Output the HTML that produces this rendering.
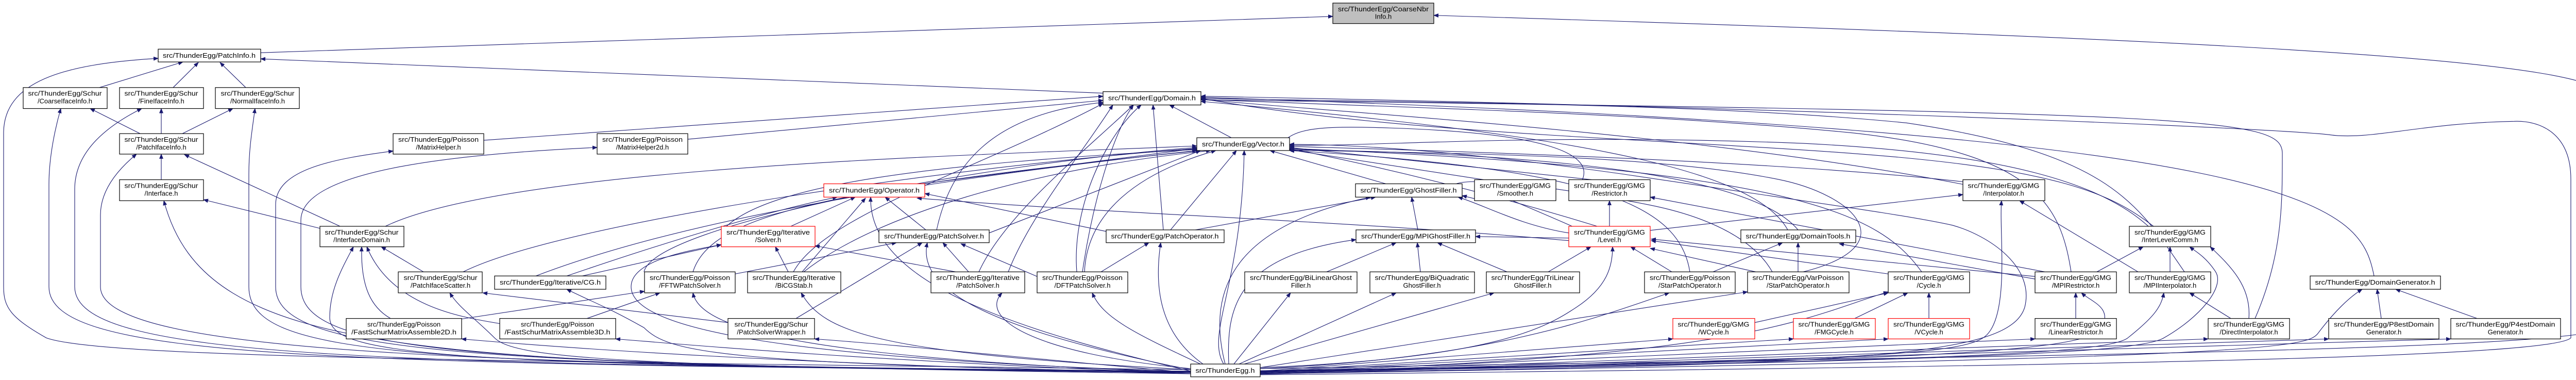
<!DOCTYPE html>
<html><head><meta charset="utf-8">
<style>
html,body{margin:0;padding:0;background:#fff;}
svg{display:block;}
text{font-family:"Liberation Sans",sans-serif;font-size:13px;fill:#000;}
.e{fill:none;stroke:#191970;stroke-width:1.1;marker-end:url(#ah);}
.n{fill:#fff;stroke:#000;stroke-width:1.2;}
.r{fill:#fff;stroke:#ff0000;stroke-width:1.2;}
</style></head>
<body>
<svg width="5064" height="737" viewBox="0 0 5064 737" xmlns="http://www.w3.org/2000/svg">
<defs>
<marker id="ah" markerWidth="10" markerHeight="8" refX="9" refY="4" orient="auto" markerUnits="userSpaceOnUse">
<path d="M0,0 L10,4 L0,8 z" fill="#191970"/>
</marker>
</defs>
<g transform="scale(1 0.993)">
<g>
<!-- edges -->
<path class="e" d="M506,103 L2587,32"/>
<path class="e" d="M2446,720 C3500,700 5000,690 5057,640 L5057,190 C5057,120 4400,80 2783,30"/>
<path class="e" d="M2141,182 L506,115"/>
<path class="e" d="M2311,722 C1000,705 200,700 90,660 C20,620 7,600 7,560 L7,260 C7,160 120,125 307,114"/>
<path class="e" d="M193,171 L355,121"/>
<path class="e" d="M336,171 L385,122"/>
<path class="e" d="M477,171 L427,122"/>
<path class="e" d="M272,261 L175,212"/>
<path class="e" d="M313,261 L313,212"/>
<path class="e" d="M354,261 L452,212"/>
<path class="e" d="M2311,725 C600,712 95,700 95,560 L95,360 C95,300 110,240 118,212"/>
<path class="e" d="M2311,725 C700,712 145,700 145,560 L145,370 C145,300 200,250 275,212"/>
<path class="e" d="M2311,725 C800,712 483,700 483,560 L483,340 C483,290 490,250 495,212"/>
<path class="e" d="M313,351 L313,301"/>
<path class="e" d="M660,442 L358,302"/>
<path class="e" d="M2311,726 C900,712 195,690 195,560 L195,420 C195,370 230,330 265,301"/>
<path class="e" d="M621,446 L395,390"/>
<path class="e" d="M2311,727 C800,712 400,700 318,392"/>
<path class="e" d="M822,531 L740,482"/>
<path class="e" d="M758,622 C720,600 700,560 702,482"/>
<path class="e" d="M970,632 C900,620 760,600 712,482"/>
<path class="e" d="M2311,728 C900,712 640,700 640,620 C640,570 660,530 686,482"/>
<path class="e" d="M748,442 C1000,320 2000,300 2323,285"/>
<path class="e" d="M899,531 C1100,430 1900,320 2323,290"/>
<path class="e" d="M939,274 L2141,188"/>
<path class="e" d="M1335,272 L2141,196"/>
<path class="e" d="M2311,728 C900,712 584,690 584,560 L584,430 C584,330 900,300 1159,288"/>
<path class="e" d="M2311,728 C900,712 535,690 535,560 L535,400 C535,330 650,310 763,295"/>
<path class="e" d="M1535,442 L1660,385"/>
<path class="e" d="M1100,539 C1300,470 1500,410 1625,385"/>
<path class="e" d="M1557,531 L1680,387"/>
<path class="e" d="M1797,449 L1718,385"/>
<path class="e" d="M2311,725 C2000,650 1685,560 1690,385"/>
<path class="e" d="M2147,452 L1795,378"/>
<path class="e" d="M3045,470 C2600,430 2200,420 1780,387"/>
<path class="e" d="M1790,359 L2323,290"/>
<path class="e" d="M1130,539 L1400,478"/>
<path class="e" d="M1530,531 L1505,482"/>
<path class="e" d="M1855,531 L1582,480"/>
<path class="e" d="M2311,726 C1500,700 1225,640 1225,560 C1225,510 1330,490 1400,478"/>
<path class="e" d="M1345,531 C1380,420 1600,370 2330,294"/>
<path class="e" d="M1427,535 L1740,474"/>
<path class="e" d="M1880,531 L1830,474"/>
<path class="e" d="M1545,622 L1790,474"/>
<path class="e" d="M2311,722 C1900,640 1780,560 1800,474"/>
<path class="e" d="M2013,540 L1865,476"/>
<path class="e" d="M1818,449 C1850,300 1950,220 2141,200"/>
<path class="e" d="M1920,455 L2330,294"/>
<path class="e" d="M896,623 L1251,569"/>
<path class="e" d="M1139,622 L1281,572"/>
<path class="e" d="M2311,728 C1600,700 1360,650 1345,572"/>
<path class="e" d="M2311,722 C1700,690 1600,650 1555,572"/>
<path class="e" d="M2311,720 C2000,690 1900,620 1945,572"/>
<path class="e" d="M2311,728 C1400,710 1300,690 1250,640 C1180,600 1150,590 1100,565"/>
<path class="e" d="M1413,630 L937,572"/>
<path class="e" d="M2311,730 C1200,715 1000,700 960,660 C920,620 890,600 873,572"/>
<path class="e" d="M2311,730 C1500,710 1100,680 896,662"/>
<path class="e" d="M2311,730 C1600,700 1300,670 1195,662"/>
<path class="e" d="M2311,728 C2000,700 1700,670 1581,662"/>
<path class="e" d="M2090,531 C2080,400 2150,260 2215,205"/>
<path class="e" d="M2105,531 C2110,420 2200,340 2360,294"/>
<path class="e" d="M2137,531 L2230,474"/>
<path class="e" d="M2330,711 C2200,650 2140,620 2120,572"/>
<path class="e" d="M2258,449 L2238,205"/>
<path class="e" d="M2272,449 L2400,294"/>
<path class="e" d="M2320,449 L2670,385"/>
<path class="e" d="M2335,711 C2250,650 2240,560 2253,474"/>
<path class="e" d="M2390,269 L2270,205"/>
<path class="e" d="M2375,711 C2340,650 2410,560 2415,294"/>
<path class="e" d="M2690,359 L2465,294"/>
<path class="e" d="M2880,351 L2500,292"/>
<path class="e" d="M2862,388 L2838,382"/>
<path class="e" d="M2752,449 L2740,385"/>
<path class="e" d="M2575,531 L2710,474"/>
<path class="e" d="M2757,531 L2751,474"/>
<path class="e" d="M2925,531 L2790,474"/>
<path class="e" d="M2378,711 C2340,560 2400,440 2660,385"/>
<path class="e" d="M2385,711 C2380,600 2400,500 2632,468"/>
<path class="e" d="M2395,711 L2505,572"/>
<path class="e" d="M2405,711 L2710,572"/>
<path class="e" d="M2415,711 L2900,572"/>
<path class="e" d="M3045,455 C2950,440 2880,400 2830,385"/>
<path class="e" d="M3045,465 L2864,462"/>
<path class="e" d="M3124,442 L3124,392"/>
<path class="e" d="M3203,450 L3810,380"/>
<path class="e" d="M4150,531 L3920,392"/>
<path class="e" d="M3969,531 L3203,385"/>
<path class="e" d="M3245,531 L3165,482"/>
<path class="e" d="M3408,531 L3203,485"/>
<path class="e" d="M3665,535 L3205,470"/>
<path class="e" d="M3950,540 L3205,467"/>
<path class="e" d="M3005,531 L3088,482"/>
<path class="e" d="M2446,718 C2900,700 3000,640 3060,600 C3120,560 3130,520 3130,482"/>
<path class="e" d="M3325,531 L3460,474"/>
<path class="e" d="M3490,531 L3490,474"/>
<path class="e" d="M3950,545 L3570,476"/>
<path class="e" d="M3406,630 L3665,572"/>
<path class="e" d="M3600,622 L3703,572"/>
<path class="e" d="M3744,622 L3744,572"/>
<path class="e" d="M2446,720 C2900,700 3100,620 3240,572"/>
<path class="e" d="M2446,718 L3392,570"/>
<path class="e" d="M2446,725 L3247,662"/>
<path class="e" d="M2446,726 L3481,662"/>
<path class="e" d="M2446,727 L3665,662"/>
<path class="e" d="M2446,728 L3950,662"/>
<path class="e" d="M2446,729 L4286,662"/>
<path class="e" d="M2446,730 L4520,662"/>
<path class="e" d="M2446,731 L4757,662"/>
<path class="e" d="M2446,726 C3400,700 3500,620 3665,570"/>
<path class="e" d="M2446,724 C3700,705 3830,690 3860,650 C3900,600 3880,450 3885,392"/>
<path class="e" d="M2446,725 C3700,705 4050,690 4080,640 C4100,600 4060,590 4040,572"/>
<path class="e" d="M2446,726 C3800,705 4090,690 4130,660 C4180,620 4195,600 4200,572"/>
<path class="e" d="M2446,727 C3800,705 4150,690 4200,660 C4270,620 4320,560 4300,530 C4280,500 4260,490 4250,482"/>
<path class="e" d="M2446,729 C3600,712 3900,700 3930,600 C3950,520 3860,460 3790,440 C3700,420 3550,400 3150,340 C2800,290 2600,282 2503,282"/>
<path class="e" d="M4029,622 L4029,572"/>
<path class="e" d="M4070,531 L4160,482"/>
<path class="e" d="M4212,531 L4212,482"/>
<path class="e" d="M4365,622 C4370,560 4330,520 4290,482"/>
<path class="e" d="M4330,622 L4250,572"/>
<path class="e" d="M4377,622 C4430,500 4430,400 4430,300 C4430,230 4300,220 2331,195"/>
<path class="e" d="M4622,622 L4614,565"/>
<path class="e" d="M4808,622 L4650,565"/>
<path class="e" d="M4608,539 C4580,400 4500,260 2331,190"/>
<path class="e" d="M2446,730 C4400,700 4480,680 4500,650 C4530,610 4560,580 4585,565"/>
<path class="e" d="M2446,732 C4000,715 4950,700 4990,660 L4990,350 C4990,260 4930,235 4880,237 C4700,240 4600,275 4520,263 C4400,250 3500,210 2331,188"/>
<path class="e" d="M4180,442 C4100,380 4000,330 3600,300 C3200,270 2700,260 2331,192"/>
<path class="e" d="M4170,442 C4080,360 3900,300 3500,280 C3000,260 2700,285 2503,284"/>
<path class="e" d="M3810,355 C3500,320 3000,300 2503,286"/>
<path class="e" d="M3810,360 C3300,260 2600,220 2331,194"/>
<path class="e" d="M3090,351 L2503,288"/>
<path class="e" d="M3100,442 C2900,380 2700,330 2503,290"/>
<path class="e" d="M3490,449 C3400,340 3000,300 2503,292"/>
<path class="e" d="M3470,449 C3400,320 3000,260 2331,198"/>
<path class="e" d="M3730,531 C3650,420 3500,330 2503,290"/>
<path class="e" d="M3280,531 C3260,400 3100,330 2503,294"/>
<path class="e" d="M3500,531 C3700,480 3600,380 3450,350 C3200,300 2800,300 2503,293"/>
<path class="e" d="M3440,531 C3400,460 3300,420 3200,400 C3000,360 2750,330 2838,384"/>
<path class="e" d="M4020,531 C4000,400 3950,300 3600,260 C3200,220 2700,210 2331,194"/>
<path class="e" d="M4240,531 C4150,400 4100,300 3700,240 C3300,200 2700,200 2331,192"/>
<path class="e" d="M2862,360 C3000,420 3100,460 3130,482"/>
<path class="e" d="M3069,356 C3100,300 3000,260 2700,250 C2550,245 2500,250 2480,294"/>
<path class="e" d="M1957,531 C2000,420 2100,300 2160,205"/>
<path class="e" d="M1250,531 C1270,440 1900,320 2323,288"/>
<path class="e" d="M1560,531 C1700,420 2000,330 2350,294"/>
<path class="e" d="M2101,531 C2120,400 2160,260 2200,205"/>
<path class="e" d="M1540,531 C1600,420 1900,330 2141,202"/>
<path class="e" d="M1900,531 C1950,420 2100,300 2200,205"/>
<path class="e" d="M1410,442 C1500,360 1800,320 2323,292"/>
<path class="e" d="M1040,539 C1400,400 2000,330 2323,294"/>
</g>
<!-- nodes -->
<g>
<rect class="n" x="2587" y="6" width="196" height="40" style="fill:#bfbfbf"/>
<text x="2685" y="22" text-anchor="middle" textLength="176" lengthAdjust="spacingAndGlyphs">src/ThunderEgg/CoarseNbr</text>
<text x="2685" y="37" text-anchor="middle">Info.h</text>

<rect class="n" x="307" y="96" width="199" height="25"/>
<text x="406" y="113" text-anchor="middle" textLength="180" lengthAdjust="spacingAndGlyphs">src/ThunderEgg/PatchInfo.h</text>

<rect class="n" x="45" y="171" width="163" height="41"/>
<text x="126" y="187" text-anchor="middle" textLength="143" lengthAdjust="spacingAndGlyphs">src/ThunderEgg/Schur</text>
<text x="126" y="202" text-anchor="middle">/CoarseIfaceInfo.h</text>

<rect class="n" x="232" y="171" width="163" height="41"/>
<text x="313" y="187" text-anchor="middle" textLength="143" lengthAdjust="spacingAndGlyphs">src/ThunderEgg/Schur</text>
<text x="313" y="202" text-anchor="middle">/FineIfaceInfo.h</text>

<rect class="n" x="418" y="171" width="163" height="41"/>
<text x="500" y="187" text-anchor="middle" textLength="143" lengthAdjust="spacingAndGlyphs">src/ThunderEgg/Schur</text>
<text x="500" y="202" text-anchor="middle">/NormalIfaceInfo.h</text>

<rect class="n" x="232" y="261" width="163" height="40"/>
<text x="313" y="277" text-anchor="middle" textLength="143" lengthAdjust="spacingAndGlyphs">src/ThunderEgg/Schur</text>
<text x="313" y="292" text-anchor="middle">/PatchIfaceInfo.h</text>

<rect class="n" x="763" y="261" width="176" height="40"/>
<text x="851" y="277" text-anchor="middle" textLength="156" lengthAdjust="spacingAndGlyphs">src/ThunderEgg/Poisson</text>
<text x="851" y="292" text-anchor="middle">/MatrixHelper.h</text>

<rect class="n" x="1159" y="261" width="176" height="40"/>
<text x="1247" y="277" text-anchor="middle" textLength="156" lengthAdjust="spacingAndGlyphs">src/ThunderEgg/Poisson</text>
<text x="1247" y="292" text-anchor="middle">/MatrixHelper2d.h</text>

<rect class="n" x="232" y="351" width="163" height="41"/>
<text x="313" y="367" text-anchor="middle" textLength="143" lengthAdjust="spacingAndGlyphs">src/ThunderEgg/Schur</text>
<text x="313" y="382" text-anchor="middle">/Interface.h</text>

<rect class="n" x="621" y="442" width="163" height="40"/>
<text x="702" y="458" text-anchor="middle" textLength="143" lengthAdjust="spacingAndGlyphs">src/ThunderEgg/Schur</text>
<text x="702" y="473" text-anchor="middle">/InterfaceDomain.h</text>

<rect class="n" x="773" y="531" width="163" height="41"/>
<text x="855" y="547" text-anchor="middle" textLength="143" lengthAdjust="spacingAndGlyphs">src/ThunderEgg/Schur</text>
<text x="855" y="562" text-anchor="middle">/PatchIfaceScatter.h</text>

<rect class="n" x="672" y="622" width="224" height="40"/>
<text x="784" y="638" text-anchor="middle">src/ThunderEgg/Poisson</text>
<text x="784" y="653" text-anchor="middle" textLength="204" lengthAdjust="spacingAndGlyphs">/FastSchurMatrixAssemble2D.h</text>

<rect class="n" x="960" y="539" width="216" height="26"/>
<text x="1068" y="556" text-anchor="middle" textLength="196" lengthAdjust="spacingAndGlyphs">src/ThunderEgg/Iterative/CG.h</text>

<rect class="n" x="970" y="622" width="225" height="40"/>
<text x="1082" y="638" text-anchor="middle">src/ThunderEgg/Poisson</text>
<text x="1082" y="653" text-anchor="middle" textLength="205" lengthAdjust="spacingAndGlyphs">/FastSchurMatrixAssemble3D.h</text>

<rect class="r" x="1599" y="359" width="196" height="26"/>
<text x="1697" y="376" text-anchor="middle" textLength="176" lengthAdjust="spacingAndGlyphs">src/ThunderEgg/Operator.h</text>

<rect class="r" x="1400" y="442" width="182" height="40"/>
<text x="1491" y="458" text-anchor="middle" textLength="162" lengthAdjust="spacingAndGlyphs">src/ThunderEgg/Iterative</text>
<text x="1491" y="473" text-anchor="middle">/Solver.h</text>

<rect class="n" x="1706" y="449" width="214" height="25"/>
<text x="1813" y="466" text-anchor="middle" textLength="194" lengthAdjust="spacingAndGlyphs">src/ThunderEgg/PatchSolver.h</text>

<rect class="n" x="1251" y="531" width="176" height="41"/>
<text x="1339" y="547" text-anchor="middle" textLength="156" lengthAdjust="spacingAndGlyphs">src/ThunderEgg/Poisson</text>
<text x="1339" y="562" text-anchor="middle">/FFTWPatchSolver.h</text>

<rect class="n" x="1451" y="531" width="181" height="41"/>
<text x="1541" y="547" text-anchor="middle" textLength="161" lengthAdjust="spacingAndGlyphs">src/ThunderEgg/Iterative</text>
<text x="1541" y="562" text-anchor="middle">/BiCGStab.h</text>

<rect class="n" x="1807" y="531" width="182" height="41"/>
<text x="1898" y="547" text-anchor="middle" textLength="162" lengthAdjust="spacingAndGlyphs">src/ThunderEgg/Iterative</text>
<text x="1898" y="562" text-anchor="middle">/PatchSolver.h</text>

<rect class="n" x="1413" y="622" width="168" height="40"/>
<text x="1497" y="638" text-anchor="middle" textLength="143" lengthAdjust="spacingAndGlyphs">src/ThunderEgg/Schur</text>
<text x="1497" y="653" text-anchor="middle">/PatchSolverWrapper.h</text>

<rect class="n" x="2141" y="179" width="190" height="26"/>
<text x="2236" y="196" text-anchor="middle" textLength="170" lengthAdjust="spacingAndGlyphs">src/ThunderEgg/Domain.h</text>

<rect class="n" x="2323" y="269" width="180" height="25"/>
<text x="2413" y="286" text-anchor="middle" textLength="160" lengthAdjust="spacingAndGlyphs">src/ThunderEgg/Vector.h</text>

<rect class="n" x="2631" y="359" width="207" height="26"/>
<text x="2734" y="376" text-anchor="middle" textLength="187" lengthAdjust="spacingAndGlyphs">src/ThunderEgg/GhostFiller.h</text>

<rect class="n" x="2862" y="351" width="158" height="41"/>
<text x="2941" y="367" text-anchor="middle" textLength="138" lengthAdjust="spacingAndGlyphs">src/ThunderEgg/GMG</text>
<text x="2941" y="382" text-anchor="middle">/Smoother.h</text>

<rect class="n" x="2147" y="449" width="229" height="25"/>
<text x="2261" y="466" text-anchor="middle" textLength="209" lengthAdjust="spacingAndGlyphs">src/ThunderEgg/PatchOperator.h</text>

<rect class="n" x="2632" y="449" width="232" height="25"/>
<text x="2748" y="466" text-anchor="middle" textLength="212" lengthAdjust="spacingAndGlyphs">src/ThunderEgg/MPIGhostFiller.h</text>

<rect class="n" x="2013" y="531" width="176" height="41"/>
<text x="2101" y="547" text-anchor="middle" textLength="156" lengthAdjust="spacingAndGlyphs">src/ThunderEgg/Poisson</text>
<text x="2101" y="562" text-anchor="middle">/DFTPatchSolver.h</text>

<rect class="n" x="2416" y="531" width="218" height="41"/>
<text x="2525" y="547" text-anchor="middle" textLength="198" lengthAdjust="spacingAndGlyphs">src/ThunderEgg/BiLinearGhost</text>
<text x="2525" y="562" text-anchor="middle">Filler.h</text>

<rect class="n" x="2659" y="531" width="203" height="41"/>
<text x="2760" y="547" text-anchor="middle" textLength="183" lengthAdjust="spacingAndGlyphs">src/ThunderEgg/BiQuadratic</text>
<text x="2760" y="562" text-anchor="middle">GhostFiller.h</text>

<rect class="n" x="2885" y="531" width="181" height="41"/>
<text x="2975" y="547" text-anchor="middle" textLength="161" lengthAdjust="spacingAndGlyphs">src/ThunderEgg/TriLinear</text>
<text x="2975" y="562" text-anchor="middle">GhostFiller.h</text>

<rect class="n" x="3045" y="351" width="158" height="41"/>
<text x="3124" y="367" text-anchor="middle" textLength="138" lengthAdjust="spacingAndGlyphs">src/ThunderEgg/GMG</text>
<text x="3124" y="382" text-anchor="middle">/Restrictor.h</text>

<rect class="n" x="3810" y="351" width="159" height="41"/>
<text x="3889" y="367" text-anchor="middle" textLength="139" lengthAdjust="spacingAndGlyphs">src/ThunderEgg/GMG</text>
<text x="3889" y="382" text-anchor="middle">/Interpolator.h</text>

<rect class="r" x="3045" y="442" width="158" height="40"/>
<text x="3124" y="458" text-anchor="middle" textLength="138" lengthAdjust="spacingAndGlyphs">src/ThunderEgg/GMG</text>
<text x="3124" y="473" text-anchor="middle">/Level.h</text>

<rect class="n" x="3379" y="449" width="223" height="25"/>
<text x="3490" y="466" text-anchor="middle" textLength="203" lengthAdjust="spacingAndGlyphs">src/ThunderEgg/DomainTools.h</text>

<rect class="n" x="3192" y="531" width="176" height="41"/>
<text x="3280" y="547" text-anchor="middle" textLength="156" lengthAdjust="spacingAndGlyphs">src/ThunderEgg/Poisson</text>
<text x="3280" y="562" text-anchor="middle">/StarPatchOperator.h</text>

<rect class="n" x="3392" y="531" width="197" height="41"/>
<text x="3490" y="547" text-anchor="middle" textLength="177" lengthAdjust="spacingAndGlyphs">src/ThunderEgg/VarPoisson</text>
<text x="3490" y="562" text-anchor="middle">/StarPatchOperator.h</text>

<rect class="n" x="3665" y="531" width="158" height="41"/>
<text x="3744" y="547" text-anchor="middle" textLength="138" lengthAdjust="spacingAndGlyphs">src/ThunderEgg/GMG</text>
<text x="3744" y="562" text-anchor="middle">/Cycle.h</text>

<rect class="n" x="3950" y="531" width="158" height="41"/>
<text x="4029" y="547" text-anchor="middle" textLength="138" lengthAdjust="spacingAndGlyphs">src/ThunderEgg/GMG</text>
<text x="4029" y="562" text-anchor="middle">/MPIRestrictor.h</text>

<rect class="r" x="3247" y="622" width="159" height="40"/>
<text x="3326" y="638" text-anchor="middle" textLength="139" lengthAdjust="spacingAndGlyphs">src/ThunderEgg/GMG</text>
<text x="3326" y="653" text-anchor="middle">/WCycle.h</text>

<rect class="r" x="3481" y="622" width="159" height="40"/>
<text x="3560" y="638" text-anchor="middle" textLength="139" lengthAdjust="spacingAndGlyphs">src/ThunderEgg/GMG</text>
<text x="3560" y="653" text-anchor="middle">/FMGCycle.h</text>

<rect class="r" x="3665" y="622" width="158" height="40"/>
<text x="3744" y="638" text-anchor="middle" textLength="138" lengthAdjust="spacingAndGlyphs">src/ThunderEgg/GMG</text>
<text x="3744" y="653" text-anchor="middle">/VCycle.h</text>

<rect class="n" x="3950" y="622" width="158" height="40"/>
<text x="4029" y="638" text-anchor="middle" textLength="138" lengthAdjust="spacingAndGlyphs">src/ThunderEgg/GMG</text>
<text x="4029" y="653" text-anchor="middle">/LinearRestrictor.h</text>

<rect class="n" x="4133" y="442" width="158" height="40"/>
<text x="4212" y="458" text-anchor="middle" textLength="138" lengthAdjust="spacingAndGlyphs">src/ThunderEgg/GMG</text>
<text x="4212" y="473" text-anchor="middle">/InterLevelComm.h</text>

<rect class="n" x="4133" y="531" width="158" height="41"/>
<text x="4212" y="547" text-anchor="middle" textLength="138" lengthAdjust="spacingAndGlyphs">src/ThunderEgg/GMG</text>
<text x="4212" y="562" text-anchor="middle">/MPIInterpolator.h</text>

<rect class="n" x="4286" y="622" width="158" height="40"/>
<text x="4365" y="638" text-anchor="middle" textLength="138" lengthAdjust="spacingAndGlyphs">src/ThunderEgg/GMG</text>
<text x="4365" y="653" text-anchor="middle">/DirectInterpolator.h</text>

<rect class="n" x="4484" y="539" width="253" height="26"/>
<text x="4610" y="556" text-anchor="middle" textLength="233" lengthAdjust="spacingAndGlyphs">src/ThunderEgg/DomainGenerator.h</text>

<rect class="n" x="4520" y="622" width="214" height="40"/>
<text x="4627" y="638" text-anchor="middle" textLength="194" lengthAdjust="spacingAndGlyphs">src/ThunderEgg/P8estDomain</text>
<text x="4627" y="653" text-anchor="middle">Generator.h</text>

<rect class="n" x="4757" y="622" width="213" height="40"/>
<text x="4863" y="638" text-anchor="middle" textLength="193" lengthAdjust="spacingAndGlyphs">src/ThunderEgg/P4estDomain</text>
<text x="4863" y="653" text-anchor="middle">Generator.h</text>

<rect class="n" x="2311" y="711" width="135" height="25"/>
<text x="2378" y="728" text-anchor="middle" textLength="115" lengthAdjust="spacingAndGlyphs">src/ThunderEgg.h</text>
</g>
</g>
</svg>
</body></html>
